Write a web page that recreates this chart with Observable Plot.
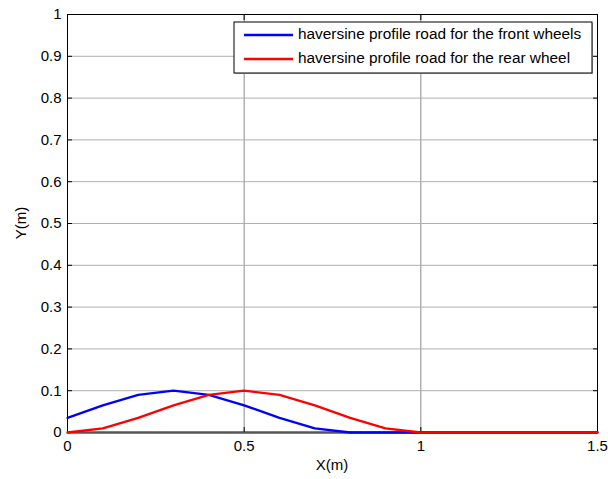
<!DOCTYPE html>
<html>
<head>
<meta charset="utf-8">
<script src="https://cdn.jsdelivr.net/npm/d3@7"></script>
<script src="https://cdn.jsdelivr.net/npm/@observablehq/plot@0.6"></script>
<style>
  html, body { margin: 0; padding: 0; background: #fff; }
  #chart { width: 608px; height: 479px; }
</style>
</head>
<body>
<div id="chart"></div>
<script>
// Data
const xValues = [0, 0.1, 0.2, 0.3, 0.4, 0.5, 0.6, 0.7, 0.8, 0.9, 1.0, 1.1, 1.2, 1.3, 1.4, 1.5];
const frontWheels = [0.035, 0.065, 0.09, 0.1, 0.09, 0.065, 0.035, 0.01, 0, 0, 0, 0, 0, 0, 0, 0];
const rearWheel   = [0, 0.01, 0.035, 0.065, 0.09, 0.1, 0.09, 0.065, 0.035, 0.01, 0, 0, 0, 0, 0, 0];
const seriesNames = ["haversine profile road for the front wheels", "haversine profile road for the rear wheel"];
const seriesColors = ["#0000ff", "#ff0000"];
const xTicks = [0, 0.5, 1, 1.5];
const yTicks = [0, 0.1, 0.2, 0.3, 0.4, 0.5, 0.6, 0.7, 0.8, 0.9, 1];
const xLabel = "X(m)";
const yLabel = "Y(m)";

const front = xValues.map((x, i) => ({x, y: frontWheels[i]}));
const rear = xValues.map((x, i) => ({x, y: rearWheel[i]}));

const W = 608, H = 479;
const mL = 67, mR = 11, mT = 14, mB = 47;
const font = "'Liberation Sans', Arial, Helvetica, sans-serif";
const fs = 15;
const lfs = 15.4;

const plot = Plot.plot({
  width: W, height: H,
  marginLeft: mL, marginRight: mR, marginTop: mT, marginBottom: mB,
  style: {fontFamily: font, fontSize: fs + "px", color: "#000", background: "#fff", overflow: "visible"},
  x: {domain: [0, 1.5]},
  y: {domain: [0, 1]},
  marks: [
    Plot.gridX(xTicks, {stroke: "#8a8a8a", strokeOpacity: 1, strokeWidth: 1}),
    Plot.gridY(yTicks, {stroke: "#b0b0b0", strokeOpacity: 1, strokeWidth: 1}),
    Plot.frame({stroke: "#000", strokeWidth: 1}),
    Plot.ruleY([0], {stroke: "#555", strokeWidth: 2.5}),
    Plot.axisX(xTicks, {anchor: "bottom", tickSize: -5, tickPadding: 13, tickFormat: d => String(d), label: null}),
    Plot.axisX(xTicks, {anchor: "top", tickSize: -5, tickFormat: () => "", label: null}),
    Plot.axisY(yTicks, {anchor: "left", tickSize: -5, tickPadding: 11, tickFormat: d => String(d), label: null}),
    Plot.axisY(yTicks, {anchor: "right", tickSize: -5, tickFormat: () => "", label: null}),
    Plot.line(front, {x: "x", y: "y", stroke: seriesColors[0], strokeWidth: 2.3}),
    Plot.line(rear, {x: "x", y: "y", stroke: seriesColors[1], strokeWidth: 2.3})
  ]
});
document.getElementById("chart").appendChild(plot);

const svg = d3.select(plot);
svg.selectAll("text").attr("fill", "#000");

// Axis titles
svg.append("text")
  .attr("x", (mL + W - mR) / 2).attr("y", 466)
  .attr("text-anchor", "middle").attr("dominant-baseline", "middle")
  .attr("font-family", font).attr("font-size", fs).attr("fill", "#000")
  .text(xLabel);
svg.append("text")
  .attr("transform", `translate(22,${(mT + H - mB) / 2}) rotate(-90)`)
  .attr("text-anchor", "middle").attr("dominant-baseline", "middle")
  .attr("font-family", font).attr("font-size", fs).attr("fill", "#000")
  .text(yLabel);

// Legend
const lg = svg.append("g");
lg.append("rect").attr("x", 235).attr("y", 23).attr("width", 358).attr("height", 51).attr("fill", "#bbb");
lg.append("rect").attr("x", 234).attr("y", 22).attr("width", 358).attr("height", 51)
  .attr("fill", "#fff").attr("stroke", "#000").attr("stroke-width", 1);
seriesNames.forEach((name, i) => {
  const yy = 35 + i * 24;
  lg.append("line").attr("x1", 244).attr("x2", 293).attr("y1", yy).attr("y2", yy)
    .attr("stroke", seriesColors[i]).attr("stroke-width", 2.3);
  lg.append("text").attr("x", 298).attr("y", yy)
    .attr("text-anchor", "start").attr("dominant-baseline", "middle")
    .attr("font-family", font).attr("font-size", lfs).attr("fill", "#000")
    .text(name);
});
</script>
</body>
</html>
